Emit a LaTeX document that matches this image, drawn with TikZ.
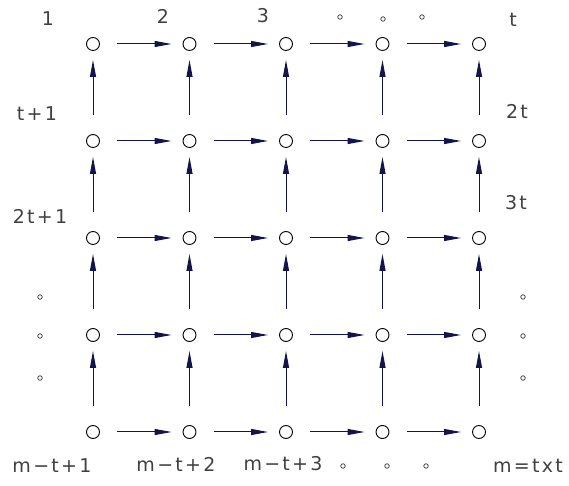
\documentclass[tikz,border=0pt]{standalone}
\usepackage{fontspec}
\setmainfont{DejaVu Sans}[LetterSpace=12]
\usepackage{tikz}
\usetikzlibrary{arrows.meta}
\definecolor{navy}{HTML}{14144A}

\begin{document}
\begin{tikzpicture}[x=1pt, y=1pt,
    % 1. Nodos de la malla
    cell/.style={draw=black, line width=0.9pt, circle, minimum size=13pt, inner sep=0pt},
    % 2. Puntos suspensivos
    ellip/.style={draw=black!80, line width=0.7pt, circle, minimum size=4.5pt, inner sep=0pt},
    % 3. Flechas
    arrow/.style={-{Triangle[length=17pt, width=6pt]}, line width=1pt, color=navy},
    hflow/.style={arrow, shorten <=24pt, shorten >=18pt},
    vflow/.style={arrow, shorten <=26pt, shorten >=16pt},
    % 4. Etiquetas
    idx/.style={font=\fontsize{19}{19}\selectfont, text=black!75, inner sep=0pt}
]
    \useasboundingbox (0,0) rectangle (569,486);

    % --- MALLA 5x5 ---
    \foreach \r in {1,...,5}
        \foreach \c in {1,...,5}
            \node[cell] (c\r\c) at ({93+96.5*(\c-1)}, {442-97*(\r-1)}) {};

    % --- FLECHAS ---
    \foreach \r in {1,...,5}
        \foreach \c/\n in {1/2,2/3,3/4,4/5}
            \draw[hflow] (c\r\c.center) -- (c\r\n.center);
    \foreach \r/\u in {2/1,3/2,4/3,5/4}
        \foreach \c in {1,...,5}
            \draw[vflow] (c\r\c.center) -- (c\u\c.center);

    % --- ETIQUETAS ---
    \node[idx] (l1) at (48,467) {1};
    \node[idx] (l2) at (163,470) {2};
    \node[idx] (l3) at (263,470) {3};
    \node[idx] (lt) at (513,466) {t};
    \node[idx] (lt1) at (37,372) {t+1};
    \node[idx] (l2t) at (517,375) {2t};
    \node[idx] (l2t1) at (40,270) {2t+1};
    \node[idx] (l3t) at (516,283) {3t};
    \node[idx] (lb1) at (52,20) {m−t+1};
    \node[idx] (lb2) at (176,22) {m−t+2};
    \node[idx] (lb3) at (283,22) {m−t+3};
    \node[idx] (lm) at (528,20) {m=txt};

    % --- PUNTOS ---
    \foreach \x/\y [count=\i] in {340/469, 383/467, 422/469, 343/20, 387/20, 426/20,
        40/189, 40/150, 40/108, 523/189, 523/150, 523/108}
        \node[ellip] (e\i) at (\x,\y) {};

\end{tikzpicture}
\end{document}
